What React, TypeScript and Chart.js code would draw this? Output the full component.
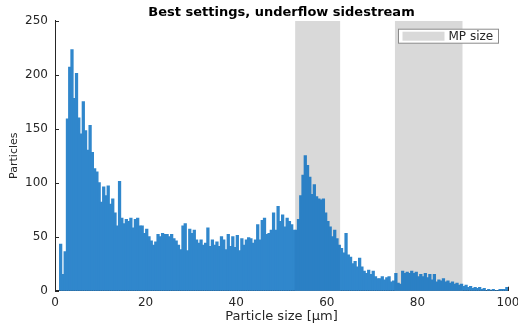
import React, { useEffect, useRef } from 'react';
import { Chart, registerables } from 'chart.js';

Chart.register(...registerables);

// Histogram bins: first bin starts at 1.0 µm, each bin is 0.5 µm wide
const binStart = 1;
const binWidth = 0.5;
const counts = [
  43, 15, 36, 159, 207, 223, 178, 201, 160, 145,
  175, 148, 130, 153, 128, 113, 110, 100, 82, 96,
  88, 97, 80, 85, 72, 60, 101, 67, 62, 66,
  64, 67, 58, 66, 67, 60, 60, 53, 57, 50,
  46, 42, 45, 52, 50, 53, 52, 52, 50, 52,
  48, 46, 42, 38, 60, 62, 37, 57, 53, 56,
  47, 44, 47, 42, 44, 58, 41, 47, 42, 45,
  41, 50, 47, 38, 52, 41, 50, 40, 51, 37,
  48, 42, 47, 49, 48, 44, 47, 61, 47, 65,
  67, 52, 53, 56, 72, 56, 78, 64, 70, 59,
  67, 64, 61, 56, 56, 66, 88, 107, 125, 116,
  105, 89, 98, 87, 85, 84, 85, 72, 64, 59,
  50, 56, 48, 42, 39, 35, 53, 33, 31, 25,
  27, 22, 30, 22, 18, 16, 19, 15, 18, 13,
  11, 11, 13, 10, 12, 13, 8, 9, 16, 7,
  6, 18, 16, 17, 16, 18, 16, 17, 13, 15,
  13, 16, 12, 15, 10, 15, 8, 10, 9, 11,
  8, 9, 7, 8, 6, 7, 5, 6, 4, 5,
  3, 4, 2, 3, 2, 3, 1, 2, 0, 1,
  0, 1, 0, 0, 1, 1, 1, 3,
];

// MP size bands (µm)
const bandStarts = [53, 75];
const bandEnds = [63, 90];
const bandTop = 250;

const xMin = 0;
const xMax = 100;
const xStep = 20;
const yMin = 0;
const yMax = 250;
const yStep = 50;

const titleText = 'Best settings, underflow sidestream';
const xLabel = 'Particle size [\u03bcm]';
const yLabel = 'Particles';
const legendLabel = 'MP size';

const AXIS_COLOR = '#262626';
const BAND_COLOR = '#d9d9d9';
const BAR_COLOR = 'rgb(48, 135, 204)';
const BAR_COLOR_IN_BAND = 'rgb(43, 128, 197)';
const FONT = '"DejaVu Sans", "Liberation Sans", Arial, sans-serif';

function inBand(x: number) {
  return bandStarts.some((s, i) => x >= s && x <= bandEnds[i]);
}

export default function App() {
  const ref = useRef<HTMLCanvasElement>(null);

  useEffect(() => {
    document.body.style.margin = '0';
    const canvas = ref.current;
    if (!canvas) return;

    const histData = counts.map((c, i) => ({ x: binStart + binWidth * (i + 0.5), y: c }));
    const bandData: { x: number; y: number | null }[] = [];
    bandStarts.forEach((s, i) => {
      if (i > 0) bandData.push({ x: (bandEnds[i - 1] + s) / 2, y: null });
      bandData.push({ x: s, y: bandTop }, { x: bandEnds[i], y: bandTop });
    });

    const decor = {
      id: 'matlabDecor',
      beforeDatasetsDraw(chart: any) {
        const { ctx, chartArea, scales } = chart;
        const xs = scales.x;
        const ys = scales.y;
        ctx.save();
        ctx.strokeStyle = AXIS_COLOR;
        ctx.lineWidth = 1;
        ctx.beginPath();
        xs.ticks.forEach((t: any) => {
          const px = Math.round(xs.getPixelForValue(t.value)) + 0.5;
          ctx.moveTo(px, chartArea.bottom);
          ctx.lineTo(px, chartArea.bottom - 4);
        });
        ys.ticks.forEach((t: any) => {
          const py = Math.round(ys.getPixelForValue(t.value)) + 0.5;
          ctx.moveTo(chartArea.left, py);
          ctx.lineTo(chartArea.left + 4, py);
        });
        ctx.stroke();
        ctx.restore();
      },
      afterDraw(chart: any) {
        const { ctx, chartArea } = chart;
        ctx.save();
        // Title
        ctx.fillStyle = '#000';
        ctx.font = `bold 13px ${FONT}`;
        ctx.textAlign = 'center';
        ctx.textBaseline = 'alphabetic';
        ctx.fillText(titleText, (chartArea.left + chartArea.right) / 2, 16);

        // Legend box
        const label = chart.data.datasets[0].label;
        const bx = chartArea.right - 109.5;
        const by = chartArea.top + 8.5;
        const bw = 100;
        const bh = 14;
        ctx.fillStyle = '#fff';
        ctx.fillRect(bx, by, bw, bh);
        ctx.strokeStyle = '#8a8a8a';
        ctx.lineWidth = 1;
        ctx.strokeRect(bx, by, bw, bh);
        ctx.fillStyle = BAND_COLOR;
        ctx.fillRect(bx + 4, by + 2.5, 42, 9);
        ctx.fillStyle = AXIS_COLOR;
        ctx.font = `12px ${FONT}`;
        ctx.textAlign = 'left';
        ctx.textBaseline = 'middle';
        ctx.fillText(label, bx + 50, by + bh / 2 + 0.5);
        ctx.restore();
      },
    };

    const chart = new Chart(canvas, {
      type: 'bar',
      data: {
        datasets: [
          {
            type: 'line',
            label: legendLabel,
            data: bandData as any,
            fill: 'origin',
            backgroundColor: BAND_COLOR,
            borderWidth: 0,
            pointRadius: 0,
            spanGaps: false,
            tension: 0,
            order: 2,
          } as any,
          {
            type: 'bar',
            label: yLabel,
            data: histData as any,
            backgroundColor: (c: any) =>
              c.raw && inBand(c.raw.x) ? BAR_COLOR_IN_BAND : BAR_COLOR,
            borderWidth: 0,
            inflateAmount: 0.5,
            barPercentage: 1,
            categoryPercentage: 1,
            order: 1,
          } as any,
        ],
      },
      options: {
        animation: false,
        responsive: true,
        maintainAspectRatio: false,
        layout: { padding: { top: 20.7, right: 10, bottom: 0, left: 0 } },
        plugins: {
          legend: { display: false },
          tooltip: { enabled: false },
          title: { display: false },
        },
        scales: {
          x: {
            type: 'linear',
            min: xMin,
            max: xMax,
            offset: false,
            grid: { display: false, drawTicks: false },
            border: { display: true, color: AXIS_COLOR, width: 1 },
            ticks: {
              stepSize: xStep,
              padding: 4.5,
              color: AXIS_COLOR,
              font: { family: FONT, size: 12 },
              maxRotation: 0,
            },
            title: {
              display: true,
              text: xLabel,
              color: AXIS_COLOR,
              font: { family: FONT, size: 13 },
              padding: { top: 0, bottom: 6.2 },
            },
            afterFit(s: any) {
              s.height = 40.3;
              s.paddingLeft = 0;
              s.paddingRight = 0;
            },
          },
          y: {
            type: 'linear',
            min: yMin,
            max: yMax,
            grid: { display: false, drawTicks: false },
            border: { display: true, color: AXIS_COLOR, width: 1 },
            ticks: {
              stepSize: yStep,
              padding: 7,
              color: AXIS_COLOR,
              font: { family: FONT, size: 12 },
            },
            title: {
              display: true,
              text: yLabel,
              color: AXIS_COLOR,
              font: { family: FONT, size: 11 },
              padding: { top: 7.4, bottom: 0 },
            },
            afterFit(s: any) {
              s.width = 55;
              s.paddingTop = 0;
              s.paddingBottom = 0;
            },
          },
        },
      },
      plugins: [decor],
    } as any);

    return () => chart.destroy();
  }, []);

  return (
    <div style={{ position: 'fixed', left: 0, top: 0, width: 518, height: 331 }}>
      <canvas ref={ref} />
    </div>
  );
}
